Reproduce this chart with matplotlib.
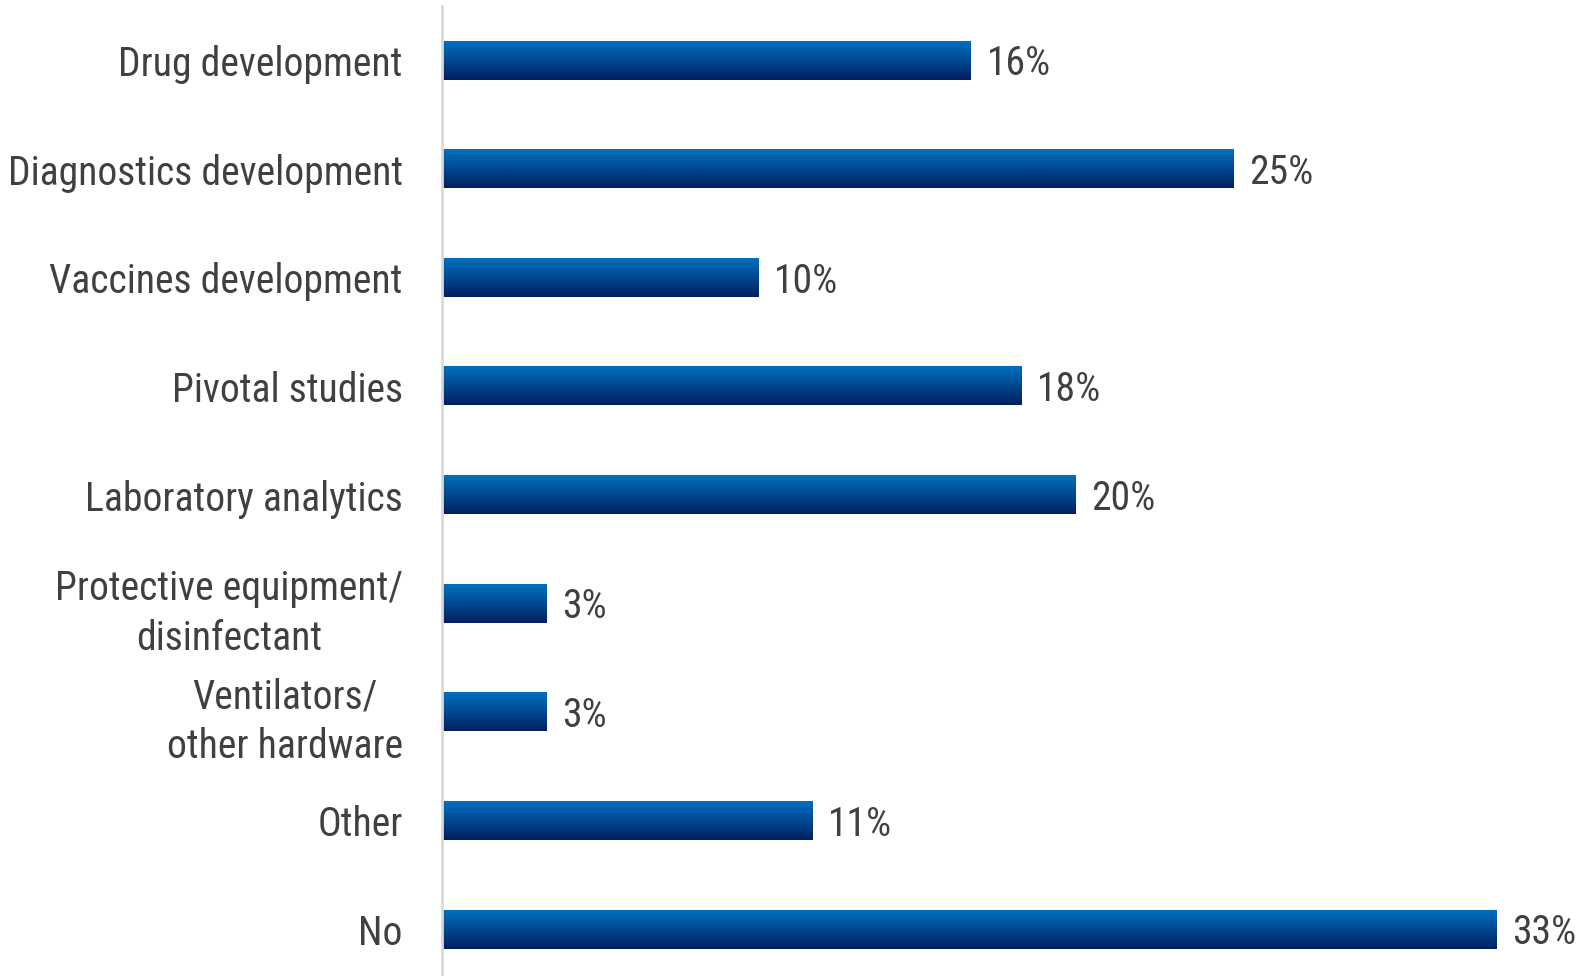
import numpy as np
import matplotlib.pyplot as plt
from matplotlib import font_manager
from matplotlib.colors import LinearSegmentedColormap

categories = ["Drug development", "Diagnostics development", "Vaccines development",
              "Pivotal studies", "Laboratory analytics",
              "Protective equipment/\ndisinfectant", "Ventilators/\nother hardware",
              "Other", "No"]
values = [16.7, 25.0, 10.0, 18.3, 20.0, 3.3, 3.3, 11.7, 33.3]
value_labels = ["16%", "25%", "10%", "18%", "20%", "3%", "3%", "11%", "33%"]

# narrow font if one exists, otherwise a smaller regular one
names = {f.name for f in font_manager.fontManager.ttflist}
narrow = [n for n in ['Arial Narrow', 'Liberation Sans Narrow', 'Roboto Condensed'] if n in names]
if narrow:
    plt.rcParams['font.family'] = [narrow[0], 'DejaVu Sans']
    fs = 28.5
else:
    plt.rcParams['font.family'] = ['Liberation Sans', 'DejaVu Sans']
    fs = 24.5
text_color = '#404040'

fig = plt.figure(figsize=(15.85, 9.76), dpi=100)
ax = fig.add_axes([0.2787, -0.008, 0.7213, 1.0015])

y = np.arange(len(categories))
bars = ax.barh(y, values, height=0.35, color='none')

# vertical gradient for every bar
cmap = LinearSegmentedColormap.from_list('blu', ['#0070c0', '#002060'])
grad = np.linspace(0, 1, 100).reshape(-1, 1)
for b in bars:
    x0, y0 = b.get_x(), b.get_y()
    w, h = b.get_width(), b.get_height()
    ax.imshow(grad, cmap=cmap, aspect='auto', extent=(x0, x0 + w, y0 + h, y0),
              zorder=2, interpolation='bicubic')

for yi, v, lab in zip(y, values, value_labels):
    ax.text(v + 0.5, yi + 0.03, lab, va='center', ha='left', fontsize=fs, color=text_color)

ax.set_xlim(0, 36.1)
ax.set_ylim(len(categories) - 0.5, -0.5)
ax.set_yticks(y)
ax.set_yticklabels(categories, fontsize=fs, color=text_color, multialignment='center',
                   linespacing=1.35)
ax.tick_params(axis='y', length=0, pad=28)
ax.set_xticks([])
for s in ['top', 'right', 'bottom']:
    ax.spines[s].set_visible(False)
ax.spines['left'].set_color('#d9d9d9')
ax.spines['left'].set_linewidth(2)

plt.savefig('out.png', dpi=100)
